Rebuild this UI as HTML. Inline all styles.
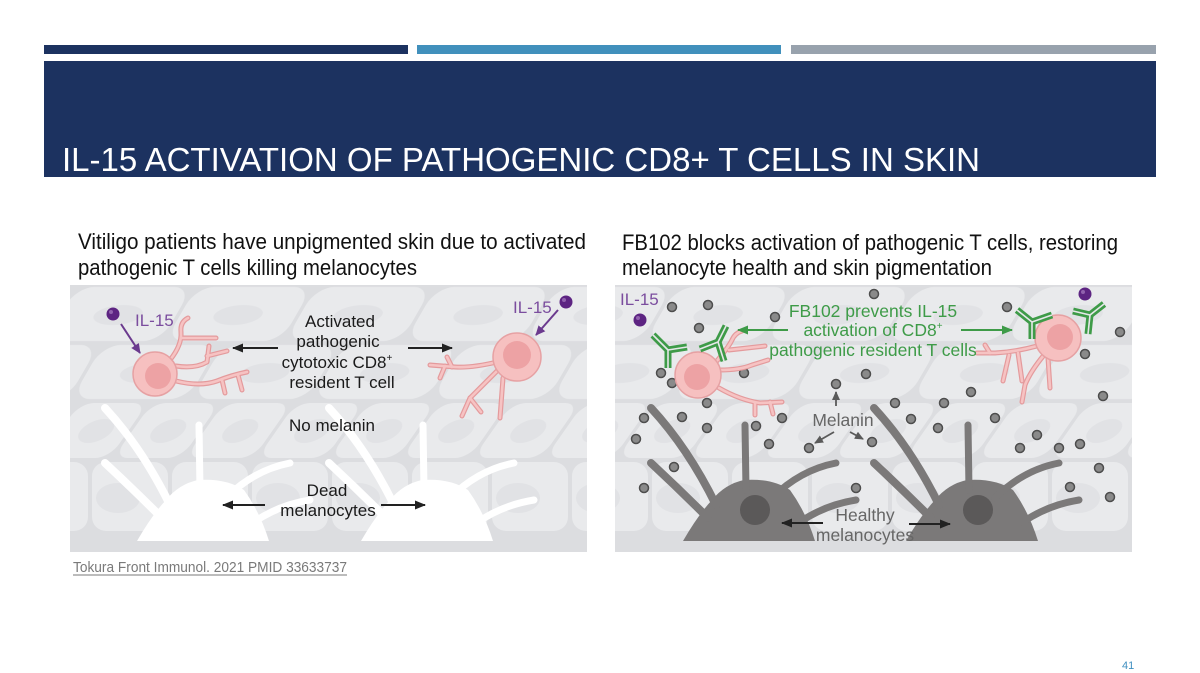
<!DOCTYPE html>
<html><head><meta charset="utf-8"><style>
html,body{margin:0;padding:0;background:#fff;}
svg{display:block;}
text{font-family:"Liberation Sans",Arial,sans-serif;}
</style></head><body>
<svg width="1200" height="673" viewBox="0 0 1200 673" xmlns="http://www.w3.org/2000/svg">
<defs>
  <clipPath id="cpL"><rect x="70" y="285" width="517" height="267"/></clipPath>
  <clipPath id="cpR"><rect x="615" y="285" width="517" height="267"/></clipPath>
  <pattern id="p1" patternUnits="userSpaceOnUse" x="0" y="285" width="120" height="58" patternTransform="skewX(-30)">
    <rect x="2" y="2" width="116" height="54" rx="18" fill="#e9eaec"/>
    <ellipse cx="60" cy="30" rx="24" ry="10" fill="#e1e2e5"/>
  </pattern>
  <pattern id="p2" patternUnits="userSpaceOnUse" x="60" y="343" width="120" height="58" patternTransform="skewX(-30)">
    <rect x="2" y="2" width="116" height="54" rx="18" fill="#e9eaec"/>
    <ellipse cx="60" cy="30" rx="24" ry="10" fill="#e1e2e5"/>
  </pattern>
  <pattern id="p3" patternUnits="userSpaceOnUse" x="0" y="401" width="72" height="59" patternTransform="skewX(-35)">
    <rect x="2" y="2" width="68" height="55" rx="14" fill="#e9eaec"/>
    <ellipse cx="38" cy="30" rx="16" ry="12" fill="#e1e2e5"/>
  </pattern>
  <pattern id="p4" patternUnits="userSpaceOnUse" x="10" y="460" width="80" height="73">
    <rect x="2" y="2" width="76" height="69" rx="14" fill="#e9eaec"/>
    <ellipse cx="28" cy="38" rx="22" ry="15" fill="#e1e2e5"/>
  </pattern>
  <marker id="aBk" markerWidth="11" markerHeight="9" refX="10" refY="4.5" orient="auto" markerUnits="userSpaceOnUse"><path d="M0,0 L11,4.5 L0,9 Z" fill="#222"/></marker>
  <marker id="aPu" markerWidth="10" markerHeight="9" refX="9" refY="4.5" orient="auto" markerUnits="userSpaceOnUse"><path d="M0,0 L10,4.5 L0,9 Z" fill="#6b3a8e"/></marker>
  <marker id="aGr" markerWidth="11" markerHeight="9" refX="10" refY="4.5" orient="auto" markerUnits="userSpaceOnUse"><path d="M0,0 L11,4.5 L0,9 Z" fill="#3e9b48"/></marker>
  <marker id="aGy" markerWidth="9" markerHeight="8" refX="8" refY="4" orient="auto" markerUnits="userSpaceOnUse"><path d="M0,0 L9,4 L0,8 Z" fill="#5a5a5a"/></marker>
</defs>

<rect width="1200" height="673" fill="#fff"/>

<rect x="44" y="45" width="364" height="9" fill="#1c3260"/>
<rect x="417" y="45" width="364" height="9" fill="#4190bc"/>
<rect x="791" y="45" width="365" height="9" fill="#98a2ad"/>

<rect x="44" y="61" width="1112" height="116" fill="#1c3260"/>
<text x="62" y="171" font-size="33" fill="#ffffff" textLength="918" lengthAdjust="spacingAndGlyphs">IL-15 ACTIVATION OF PATHOGENIC CD8+ T CELLS IN SKIN</text>

<text x="78" y="249" font-size="22" fill="#111" textLength="508" lengthAdjust="spacingAndGlyphs">Vitiligo patients have unpigmented skin due to activated</text>
<text x="78" y="275" font-size="22" fill="#111" textLength="339" lengthAdjust="spacingAndGlyphs">pathogenic T cells killing melanocytes</text>
<text x="622" y="250" font-size="22" fill="#111" textLength="496" lengthAdjust="spacingAndGlyphs">FB102 blocks activation of pathogenic T cells, restoring</text>
<text x="622" y="275" font-size="22" fill="#111" textLength="370" lengthAdjust="spacingAndGlyphs">melanocyte health and skin pigmentation</text>

<g clip-path="url(#cpL)">
  <rect x="70" y="285" width="517" height="267" fill="#dcdde0"/>
  <rect x="0" y="285" width="1200" height="58" fill="url(#p1)"/>
  <rect x="0" y="343" width="1200" height="58" fill="url(#p2)"/>
  <rect x="0" y="401" width="1200" height="59" fill="url(#p3)"/>
  <rect x="0" y="460" width="1200" height="73" fill="url(#p4)"/>
</g>
<g clip-path="url(#cpR)">
  <rect x="615" y="285" width="517" height="267" fill="#dcdde0"/>
  <rect x="0" y="285" width="1200" height="58" fill="url(#p1)"/>
  <rect x="0" y="343" width="1200" height="58" fill="url(#p2)"/>
  <rect x="0" y="401" width="1200" height="59" fill="url(#p3)"/>
  <rect x="0" y="460" width="1200" height="73" fill="url(#p4)"/>
</g>

<g clip-path="url(#cpL)">
  <g transform="translate(-546,0)" fill="#ffffff" stroke="#ffffff" stroke-linecap="round">
    <path d="M683,541 Q698,515 712,500 Q725,484 744,480 Q772,478 790,490 Q806,512 815,541 Z" stroke="none"/>
    <path d="M651,408 Q688,448 716,505" stroke-width="8" fill="none"/>
    <path d="M651,463 Q680,490 708,518" stroke-width="8" fill="none"/>
    <path d="M745,425 L746,490" stroke-width="7" fill="none"/>
    <path d="M836,463 Q800,470 772,498" stroke-width="7" fill="none"/>
    <path d="M856,500 Q825,505 800,522" stroke-width="7" fill="none"/>
  </g>
  <g transform="translate(-322,0)" fill="#ffffff" stroke="#ffffff" stroke-linecap="round">
    <path d="M683,541 Q698,515 712,500 Q725,484 744,480 Q772,478 790,490 Q806,512 815,541 Z" stroke="none"/>
    <path d="M651,408 Q688,448 716,505" stroke-width="8" fill="none"/>
    <path d="M651,463 Q680,490 708,518" stroke-width="8" fill="none"/>
    <path d="M745,425 L746,490" stroke-width="7" fill="none"/>
    <path d="M836,463 Q800,470 772,498" stroke-width="7" fill="none"/>
    <path d="M856,500 Q825,505 800,522" stroke-width="7" fill="none"/>
  </g>
</g>

<g clip-path="url(#cpR)">
  <g fill="#7b7979" stroke="#7b7979" stroke-linecap="round">
    <path d="M683,541 Q698,515 712,500 Q725,484 744,480 Q772,478 790,490 Q806,512 815,541 Z" stroke="none"/>
    <path d="M651,408 Q688,448 716,505" stroke-width="8" fill="none"/>
    <path d="M651,463 Q680,490 708,518" stroke-width="8" fill="none"/>
    <path d="M745,425 L746,490" stroke-width="7" fill="none"/>
    <path d="M836,463 Q800,470 772,498" stroke-width="7" fill="none"/>
    <path d="M856,500 Q825,505 800,522" stroke-width="7" fill="none"/>
    <circle cx="755" cy="510" r="15" fill="#5b5959" stroke="none"/>
  </g>
  <g transform="translate(223,0)" fill="#7b7979" stroke="#7b7979" stroke-linecap="round">
    <path d="M683,541 Q698,515 712,500 Q725,484 744,480 Q772,478 790,490 Q806,512 815,541 Z" stroke="none"/>
    <path d="M651,408 Q688,448 716,505" stroke-width="8" fill="none"/>
    <path d="M651,463 Q680,490 708,518" stroke-width="8" fill="none"/>
    <path d="M745,425 L746,490" stroke-width="7" fill="none"/>
    <path d="M836,463 Q800,470 772,498" stroke-width="7" fill="none"/>
    <path d="M856,500 Q825,505 800,522" stroke-width="7" fill="none"/>
    <circle cx="755" cy="510" r="15" fill="#5b5959" stroke="none"/>
  </g>
</g>

<g fill="#8a8a8a" stroke="#4d4d4d" stroke-width="1.5">
  <circle cx="672" cy="307" r="4.5"/><circle cx="708" cy="305" r="4.5"/><circle cx="874" cy="294" r="4.5"/>
  <circle cx="775" cy="317" r="4.5"/><circle cx="1007" cy="307" r="4.5"/><circle cx="699" cy="328" r="4.5"/>
  <circle cx="1120" cy="332" r="4.5"/><circle cx="1085" cy="354" r="4.5"/><circle cx="661" cy="373" r="4.5"/>
  <circle cx="672" cy="383" r="4.5"/><circle cx="744" cy="373" r="4.5"/><circle cx="866" cy="374" r="4.5"/>
  <circle cx="836" cy="384" r="4.5"/><circle cx="707" cy="403" r="4.5"/><circle cx="971" cy="392" r="4.5"/>
  <circle cx="895" cy="403" r="4.5"/><circle cx="944" cy="403" r="4.5"/><circle cx="1103" cy="396" r="4.5"/>
  <circle cx="644" cy="418" r="4.5"/><circle cx="682" cy="417" r="4.5"/><circle cx="707" cy="428" r="4.5"/>
  <circle cx="756" cy="426" r="4.5"/><circle cx="782" cy="418" r="4.5"/><circle cx="911" cy="419" r="4.5"/>
  <circle cx="938" cy="428" r="4.5"/><circle cx="995" cy="418" r="4.5"/><circle cx="636" cy="439" r="4.5"/>
  <circle cx="769" cy="444" r="4.5"/><circle cx="809" cy="448" r="4.5"/><circle cx="872" cy="442" r="4.5"/>
  <circle cx="1037" cy="435" r="4.5"/><circle cx="1020" cy="448" r="4.5"/><circle cx="1059" cy="448" r="4.5"/>
  <circle cx="1080" cy="444" r="4.5"/><circle cx="674" cy="467" r="4.5"/><circle cx="644" cy="488" r="4.5"/>
  <circle cx="856" cy="488" r="4.5"/><circle cx="1099" cy="468" r="4.5"/><circle cx="1070" cy="487" r="4.5"/>
  <circle cx="1110" cy="497" r="4.5"/>
</g>

<g fill="none" stroke-linecap="round" stroke-linejoin="round">
  <g stroke="#e49a9c" stroke-width="5">
    <path d="M170,360 Q182,345 181,332 Q180,322 188,318"/>
    <path d="M181,338 L216,338"/>
    <path d="M176,366 Q195,369 207,362 L209,346"/>
    <path d="M207,356 L227,351"/>
    <path d="M176,381 Q200,387 217,381 Q232,375 247,372"/>
    <path d="M222,380 L225,393"/><path d="M238,375 L242,390"/>
    <path d="M497,362 Q472,368 455,367 L430,365"/>
    <path d="M445,366 L440,378"/><path d="M452,367 L447,357"/>
    <path d="M498,370 Q480,388 470,398 L462,416"/>
    <path d="M470,398 L481,412"/>
    <path d="M503,378 L500,418"/>
    <path d="M716,362 Q728,348 732,340 Q735,333 742,331"/>
    <path d="M729,350 L765,346"/>
    <path d="M720,370 Q740,370 752,365 L768,360"/>
    <path d="M719,388 Q740,400 760,403 L782,402"/>
    <path d="M755,403 L755,415"/><path d="M770,402 L773,414"/>
    <path d="M1037,346 Q1015,352 995,353 L977,353"/>
    <path d="M990,353 L985,345"/>
    <path d="M1009,355 L1003,381"/>
    <path d="M1018,353 L1022,381"/>
    <path d="M1044,355 Q1030,372 1025,385 L1022,402"/>
    <path d="M1048,358 L1050,388"/>
  </g>
  <g stroke="#f6c3c3" stroke-width="2.6">
    <path d="M170,360 Q182,345 181,332 Q180,322 188,318"/>
    <path d="M181,338 L216,338"/>
    <path d="M176,366 Q195,369 207,362 L209,346"/>
    <path d="M207,356 L227,351"/>
    <path d="M176,381 Q200,387 217,381 Q232,375 247,372"/>
    <path d="M222,380 L225,393"/><path d="M238,375 L242,390"/>
    <path d="M497,362 Q472,368 455,367 L430,365"/>
    <path d="M445,366 L440,378"/><path d="M452,367 L447,357"/>
    <path d="M498,370 Q480,388 470,398 L462,416"/>
    <path d="M470,398 L481,412"/>
    <path d="M503,378 L500,418"/>
    <path d="M716,362 Q728,348 732,340 Q735,333 742,331"/>
    <path d="M729,350 L765,346"/>
    <path d="M720,370 Q740,370 752,365 L768,360"/>
    <path d="M719,388 Q740,400 760,403 L782,402"/>
    <path d="M755,403 L755,415"/><path d="M770,402 L773,414"/>
    <path d="M1037,346 Q1015,352 995,353 L977,353"/>
    <path d="M990,353 L985,345"/>
    <path d="M1009,355 L1003,381"/>
    <path d="M1018,353 L1022,381"/>
    <path d="M1044,355 Q1030,372 1025,385 L1022,402"/>
    <path d="M1048,358 L1050,388"/>
  </g>
</g>
<circle cx="155" cy="374" r="22" fill="#f6c0c0" stroke="#e6a1a3" stroke-width="1.5"/>
<circle cx="158" cy="376" r="13" fill="#eda2a4"/>
<circle cx="517" cy="357" r="24" fill="#f6c0c0" stroke="#e6a1a3" stroke-width="1.5"/>
<circle cx="517" cy="355" r="14" fill="#eda2a4"/>
<circle cx="698" cy="375" r="23" fill="#f6c0c0" stroke="#e6a1a3" stroke-width="1.5"/>
<circle cx="697" cy="377" r="13" fill="#eda2a4"/>
<circle cx="1058" cy="338" r="23" fill="#f6c0c0" stroke="#e6a1a3" stroke-width="1.5"/>
<circle cx="1060" cy="337" r="13" fill="#eda2a4"/>

<g fill="none" stroke-linecap="butt" stroke-linejoin="miter">
  <g stroke="#3e9b48" stroke-width="7">
    <path d="M653,335 L668,350 L668,368"/><path d="M668,350 L687,347"/>
    <path d="M700,349 L718,342 L726,326"/><path d="M718,342 L724,361"/>
    <path d="M1017,310 L1032,322 L1032,339"/><path d="M1032,322 L1052,315"/>
    <path d="M1073,311 L1090,315 L1104,304"/><path d="M1090,315 L1088,334"/>
  </g>
  <g stroke="#e6e7e9" stroke-width="1.6">
    <path d="M653,335 L668,350 L668,368"/><path d="M668,350 L687,347"/>
    <path d="M700,349 L718,342 L726,326"/><path d="M718,342 L724,361"/>
    <path d="M1017,310 L1032,322 L1032,339"/><path d="M1032,322 L1052,315"/>
    <path d="M1073,311 L1090,315 L1104,304"/><path d="M1090,315 L1088,334"/>
  </g>
</g>

<g fill="#5d2482">
  <circle cx="113" cy="314" r="6.5"/>
  <circle cx="566" cy="302" r="6.5"/>
  <circle cx="640" cy="320" r="6.5"/>
  <circle cx="1085" cy="294" r="6.5"/>
</g>
<g fill="#b48ccc" opacity="0.6">
  <circle cx="111" cy="312" r="2"/><circle cx="564" cy="300" r="2"/><circle cx="638" cy="318" r="2"/><circle cx="1083" cy="292" r="2"/>
</g>
<text x="135" y="326" font-size="17" fill="#7b4d9e">IL-15</text>
<text x="513" y="313" font-size="17" fill="#7b4d9e">IL-15</text>
<text x="620" y="305" font-size="17" fill="#7b4d9e">IL-15</text>
<line x1="121" y1="324" x2="140" y2="353" stroke="#6b3a8e" stroke-width="2" marker-end="url(#aPu)"/>
<line x1="558" y1="310" x2="536" y2="335" stroke="#6b3a8e" stroke-width="2" marker-end="url(#aPu)"/>

<g font-size="17" fill="#1a1a1a" text-anchor="middle">
  <text x="340" y="327">Activated</text>
  <text x="338" y="347">pathogenic</text>
  <text x="337" y="368">cytotoxic CD8<tspan font-size="10" dy="-7">+</tspan></text>
  <text x="342" y="388">resident T cell</text>
  <text x="332" y="431">No melanin</text>
  <text x="327" y="496">Dead</text>
  <text x="328" y="516">melanocytes</text>
</g>
<g stroke="#222" stroke-width="2">
  <line x1="278" y1="348" x2="233" y2="348" marker-end="url(#aBk)"/>
  <line x1="408" y1="348" x2="452" y2="348" marker-end="url(#aBk)"/>
  <line x1="265" y1="505" x2="223" y2="505" marker-end="url(#aBk)"/>
  <line x1="381" y1="505" x2="425" y2="505" marker-end="url(#aBk)"/>
</g>

<g font-size="17.5" fill="#3e9b48" text-anchor="middle">
  <text x="873" y="317">FB102 prevents IL-15</text>
  <text x="873" y="336">activation of CD8<tspan font-size="10" dy="-7">+</tspan></text>
  <text x="873" y="356">pathogenic resident T cells</text>
</g>
<g stroke="#3e9b48" stroke-width="2">
  <line x1="788" y1="330" x2="738" y2="330" marker-end="url(#aGr)"/>
  <line x1="961" y1="330" x2="1012" y2="330" marker-end="url(#aGr)"/>
</g>
<g font-size="17.5" fill="#666" text-anchor="middle">
  <text x="843" y="426">Melanin</text>
  <text x="865" y="521">Healthy</text>
  <text x="865" y="541">melanocytes</text>
</g>
<g stroke="#5a5a5a" stroke-width="1.8">
  <line x1="836" y1="406" x2="836" y2="392" marker-end="url(#aGy)"/>
  <line x1="834" y1="432" x2="815" y2="443" marker-end="url(#aGy)"/>
  <line x1="850" y1="432" x2="863" y2="439" marker-end="url(#aGy)"/>
</g>
<g stroke="#222" stroke-width="2">
  <line x1="823" y1="523" x2="782" y2="523" marker-end="url(#aBk)"/>
  <line x1="909" y1="524" x2="950" y2="524" marker-end="url(#aBk)"/>
</g>

<text x="73" y="572" font-size="14.5" fill="#7a7a7a" textLength="274" lengthAdjust="spacingAndGlyphs">Tokura Front Immunol. 2021 PMID 33633737</text>
<line x1="73" y1="575" x2="347" y2="575" stroke="#7a7a7a" stroke-width="1"/>

<text x="1122" y="669" font-size="11" fill="#3f8fc0">41</text>
</svg>
</body></html>
